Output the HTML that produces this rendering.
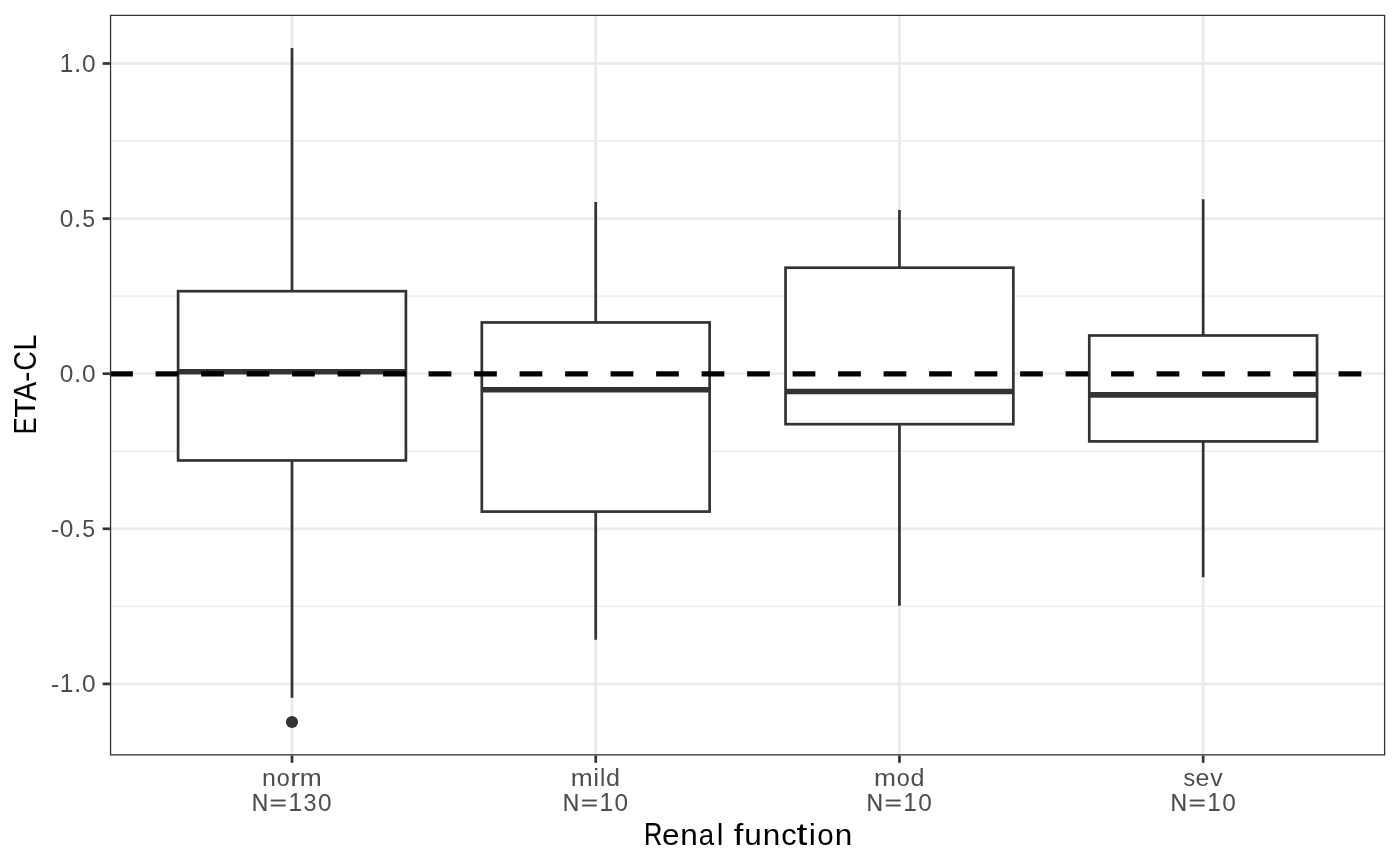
<!DOCTYPE html>
<html><head><meta charset="utf-8"><style>
html,body{margin:0;padding:0;background:#fff;width:1400px;height:866px;overflow:hidden}
svg{display:block;will-change:transform}
text{font-family:"Liberation Sans",sans-serif}
</style></head><body>
<svg width="1400" height="866" viewBox="0 0 1400 866">
<rect x="0" y="0" width="1400" height="866" fill="#FFFFFF"/>
<defs><clipPath id="pc"><rect x="109.9" y="14.7" width="1275.35" height="740.8"/></clipPath></defs>
<g clip-path="url(#pc)">
<line x1="109.9" x2="1385.25" y1="141.05" y2="141.05" stroke="#EBEBEB" stroke-width="1.4"/>
<line x1="109.9" x2="1385.25" y1="296.15" y2="296.15" stroke="#EBEBEB" stroke-width="1.4"/>
<line x1="109.9" x2="1385.25" y1="451.25" y2="451.25" stroke="#EBEBEB" stroke-width="1.4"/>
<line x1="109.9" x2="1385.25" y1="606.35" y2="606.35" stroke="#EBEBEB" stroke-width="1.4"/>
<line x1="109.9" x2="1385.25" y1="63.5" y2="63.5" stroke="#EBEBEB" stroke-width="2.8"/>
<line x1="109.9" x2="1385.25" y1="218.6" y2="218.6" stroke="#EBEBEB" stroke-width="2.8"/>
<line x1="109.9" x2="1385.25" y1="373.7" y2="373.7" stroke="#EBEBEB" stroke-width="2.8"/>
<line x1="109.9" x2="1385.25" y1="528.8" y2="528.8" stroke="#EBEBEB" stroke-width="2.8"/>
<line x1="109.9" x2="1385.25" y1="683.9" y2="683.9" stroke="#EBEBEB" stroke-width="2.8"/>
<line x1="292" x2="292" y1="14.7" y2="755.5" stroke="#EBEBEB" stroke-width="2.8"/>
<line x1="595.72" x2="595.72" y1="14.7" y2="755.5" stroke="#EBEBEB" stroke-width="2.8"/>
<line x1="899.44" x2="899.44" y1="14.7" y2="755.5" stroke="#EBEBEB" stroke-width="2.8"/>
<line x1="1203.16" x2="1203.16" y1="14.7" y2="755.5" stroke="#EBEBEB" stroke-width="2.8"/>
<line x1="292" x2="292" y1="48" y2="291.2" stroke="#333333" stroke-width="2.7"/>
<line x1="292" x2="292" y1="460.45" y2="697.7" stroke="#333333" stroke-width="2.7"/>
<rect x="178.1" y="291.2" width="227.8" height="169.25" fill="#FFFFFF" stroke="#333333" stroke-width="2.7"/>
<line x1="178.1" x2="405.9" y1="371.75" y2="371.75" stroke="#333333" stroke-width="5.6"/>
<line x1="595.72" x2="595.72" y1="201.9" y2="322.45" stroke="#333333" stroke-width="2.7"/>
<line x1="595.72" x2="595.72" y1="511.6" y2="639.8" stroke="#333333" stroke-width="2.7"/>
<rect x="481.82" y="322.45" width="227.8" height="189.15" fill="#FFFFFF" stroke="#333333" stroke-width="2.7"/>
<line x1="481.82" x2="709.62" y1="389.8" y2="389.8" stroke="#333333" stroke-width="5.6"/>
<line x1="899.44" x2="899.44" y1="209.9" y2="267.7" stroke="#333333" stroke-width="2.7"/>
<line x1="899.44" x2="899.44" y1="424.2" y2="605.7" stroke="#333333" stroke-width="2.7"/>
<rect x="785.54" y="267.7" width="227.8" height="156.5" fill="#FFFFFF" stroke="#333333" stroke-width="2.7"/>
<line x1="785.54" x2="1013.34" y1="391.55" y2="391.55" stroke="#333333" stroke-width="5.6"/>
<line x1="1203.16" x2="1203.16" y1="199.2" y2="335.5" stroke="#333333" stroke-width="2.7"/>
<line x1="1203.16" x2="1203.16" y1="441.4" y2="577.3" stroke="#333333" stroke-width="2.7"/>
<rect x="1089.26" y="335.5" width="227.8" height="105.9" fill="#FFFFFF" stroke="#333333" stroke-width="2.7"/>
<line x1="1089.26" x2="1317.06" y1="394.9" y2="394.9" stroke="#333333" stroke-width="5.6"/>
<circle cx="292" cy="722" r="6.1" fill="#333333"/>
<line x1="110.1" x2="1385.25" y1="373.9" y2="373.9" stroke="#000000" stroke-width="5.2" stroke-dasharray="22.75 22.75"/>
<rect x="109.9" y="14.7" width="1275.35" height="740.8" fill="none" stroke="#333333" stroke-width="2.6"/>
</g>
<line x1="102.65" x2="109.9" y1="63.5" y2="63.5" stroke="#333333" stroke-width="2.7"/>
<line x1="102.65" x2="109.9" y1="218.6" y2="218.6" stroke="#333333" stroke-width="2.7"/>
<line x1="102.65" x2="109.9" y1="373.7" y2="373.7" stroke="#333333" stroke-width="2.7"/>
<line x1="102.65" x2="109.9" y1="528.8" y2="528.8" stroke="#333333" stroke-width="2.7"/>
<line x1="102.65" x2="109.9" y1="683.9" y2="683.9" stroke="#333333" stroke-width="2.7"/>
<line x1="292" x2="292" y1="755.5" y2="762.8" stroke="#333333" stroke-width="2.7"/>
<line x1="595.72" x2="595.72" y1="755.5" y2="762.8" stroke="#333333" stroke-width="2.7"/>
<line x1="899.44" x2="899.44" y1="755.5" y2="762.8" stroke="#333333" stroke-width="2.7"/>
<line x1="1203.16" x2="1203.16" y1="755.5" y2="762.8" stroke="#333333" stroke-width="2.7"/>
<text id="y1" font-family="Liberation Sans, sans-serif" fill="#4D4D4D" style="white-space:pre"><tspan x="59.66" y="72.00" font-size="25.26" textLength="13.61" lengthAdjust="spacingAndGlyphs">1</tspan><tspan x="73.97" y="71.51" font-size="26.04" textLength="7.31" lengthAdjust="spacingAndGlyphs">.</tspan><tspan x="81.88" y="71.84" font-size="24.73" textLength="13.57" lengthAdjust="spacingAndGlyphs">0</tspan></text>
<text id="y2" font-family="Liberation Sans, sans-serif" fill="#4D4D4D" style="white-space:pre"><tspan x="59.81" y="226.94" font-size="24.73" textLength="13.57" lengthAdjust="spacingAndGlyphs">0</tspan><tspan x="73.97" y="226.61" font-size="26.04" textLength="7.31" lengthAdjust="spacingAndGlyphs">.</tspan><tspan x="82.18" y="226.74" font-size="24.65" textLength="12.81" lengthAdjust="spacingAndGlyphs">5</tspan></text>
<text id="y3" font-family="Liberation Sans, sans-serif" fill="#4D4D4D" style="white-space:pre"><tspan x="59.81" y="382.04" font-size="24.73" textLength="13.57" lengthAdjust="spacingAndGlyphs">0</tspan><tspan x="73.97" y="381.71" font-size="26.04" textLength="7.31" lengthAdjust="spacingAndGlyphs">.</tspan><tspan x="81.88" y="382.04" font-size="24.73" textLength="13.57" lengthAdjust="spacingAndGlyphs">0</tspan></text>
<text id="y4" font-family="Liberation Sans, sans-serif" fill="#4D4D4D" style="white-space:pre"><tspan x="50.91" y="537.20" font-size="24.44" textLength="8.31" lengthAdjust="spacingAndGlyphs">-</tspan><tspan x="59.81" y="537.14" font-size="24.73" textLength="13.57" lengthAdjust="spacingAndGlyphs">0</tspan><tspan x="73.97" y="536.81" font-size="26.04" textLength="7.31" lengthAdjust="spacingAndGlyphs">.</tspan><tspan x="82.18" y="536.94" font-size="24.65" textLength="12.81" lengthAdjust="spacingAndGlyphs">5</tspan></text>
<text id="y5" font-family="Liberation Sans, sans-serif" fill="#4D4D4D" style="white-space:pre"><tspan x="50.91" y="692.30" font-size="24.44" textLength="8.31" lengthAdjust="spacingAndGlyphs">-</tspan><tspan x="59.66" y="692.40" font-size="25.26" textLength="13.61" lengthAdjust="spacingAndGlyphs">1</tspan><tspan x="73.97" y="691.91" font-size="26.04" textLength="7.31" lengthAdjust="spacingAndGlyphs">.</tspan><tspan x="81.89" y="692.24" font-size="24.73" textLength="13.57" lengthAdjust="spacingAndGlyphs">0</tspan></text>
<text id="a1" font-family="Liberation Sans, sans-serif" fill="#4D4D4D" style="white-space:pre"><tspan x="261.95" y="785.51" font-size="23.37" textLength="13.88" lengthAdjust="spacingAndGlyphs">n</tspan><tspan x="276.75" y="785.60" font-size="23.53" textLength="13.00" lengthAdjust="spacingAndGlyphs">o</tspan><tspan x="290.25" y="785.70" font-size="24.09" textLength="9.88" lengthAdjust="spacingAndGlyphs">r</tspan><tspan x="299.78" y="785.71" font-size="23.37" textLength="21.97" lengthAdjust="spacingAndGlyphs">m</tspan></text>
<text id="b1" font-family="Liberation Sans, sans-serif" fill="#4D4D4D" style="white-space:pre"><tspan x="251.71" y="810.50" font-size="24.53" textLength="16.51" lengthAdjust="spacingAndGlyphs" stroke="#4D4D4D" stroke-width="0.20">N</tspan><tspan x="269.61" y="809.93" font-size="20.88" textLength="17.42" lengthAdjust="spacingAndGlyphs" stroke="#4D4D4D" stroke-width="0.20">=</tspan><tspan x="288.43" y="810.75" font-size="25.26" textLength="13.61" lengthAdjust="spacingAndGlyphs">1</tspan><tspan x="303.61" y="810.59" font-size="24.73" textLength="13.03" lengthAdjust="spacingAndGlyphs">3</tspan><tspan x="318.03" y="810.59" font-size="24.73" textLength="13.57" lengthAdjust="spacingAndGlyphs">0</tspan></text>
<text id="a2" font-family="Liberation Sans, sans-serif" fill="#4D4D4D" style="white-space:pre"><tspan x="570.80" y="785.71" font-size="23.37" textLength="21.97" lengthAdjust="spacingAndGlyphs">m</tspan><tspan x="593.58" y="785.64" font-size="23.54" textLength="5.26" lengthAdjust="spacingAndGlyphs" stroke="#4D4D4D" stroke-width="0.20">i</tspan><tspan x="600.01" y="785.64" font-size="23.54" textLength="5.26" lengthAdjust="spacingAndGlyphs">l</tspan><tspan x="606.06" y="785.99" font-size="24.39" textLength="13.99" lengthAdjust="spacingAndGlyphs">d</tspan></text>
<text id="b2" font-family="Liberation Sans, sans-serif" fill="#4D4D4D" style="white-space:pre"><tspan x="562.82" y="810.50" font-size="24.53" textLength="16.51" lengthAdjust="spacingAndGlyphs" stroke="#4D4D4D" stroke-width="0.20">N</tspan><tspan x="580.72" y="809.93" font-size="20.88" textLength="17.42" lengthAdjust="spacingAndGlyphs" stroke="#4D4D4D" stroke-width="0.20">=</tspan><tspan x="599.54" y="810.75" font-size="25.26" textLength="13.61" lengthAdjust="spacingAndGlyphs">1</tspan><tspan x="614.42" y="810.59" font-size="24.73" textLength="13.57" lengthAdjust="spacingAndGlyphs">0</tspan></text>
<text id="a3" font-family="Liberation Sans, sans-serif" fill="#4D4D4D" style="white-space:pre"><tspan x="873.91" y="785.71" font-size="23.37" textLength="21.97" lengthAdjust="spacingAndGlyphs">m</tspan><tspan x="896.67" y="785.60" font-size="23.53" textLength="13.00" lengthAdjust="spacingAndGlyphs">o</tspan><tspan x="910.46" y="785.99" font-size="24.39" textLength="13.99" lengthAdjust="spacingAndGlyphs">d</tspan></text>
<text id="b3" font-family="Liberation Sans, sans-serif" fill="#4D4D4D" style="white-space:pre"><tspan x="866.57" y="810.50" font-size="24.53" textLength="16.51" lengthAdjust="spacingAndGlyphs" stroke="#4D4D4D" stroke-width="0.20">N</tspan><tspan x="884.47" y="809.93" font-size="20.88" textLength="17.42" lengthAdjust="spacingAndGlyphs" stroke="#4D4D4D" stroke-width="0.20">=</tspan><tspan x="903.29" y="810.75" font-size="25.26" textLength="13.61" lengthAdjust="spacingAndGlyphs">1</tspan><tspan x="918.17" y="810.59" font-size="24.73" textLength="13.57" lengthAdjust="spacingAndGlyphs">0</tspan></text>
<text id="a4" font-family="Liberation Sans, sans-serif" fill="#4D4D4D" style="white-space:pre"><tspan x="1183.61" y="785.60" font-size="23.60" textLength="11.65" lengthAdjust="spacingAndGlyphs">s</tspan><tspan x="1195.51" y="785.60" font-size="23.53" textLength="13.91" lengthAdjust="spacingAndGlyphs">e</tspan><tspan x="1210.34" y="785.51" font-size="23.24" textLength="12.49" lengthAdjust="spacingAndGlyphs">v</tspan></text>
<text id="b4" font-family="Liberation Sans, sans-serif" fill="#4D4D4D" style="white-space:pre"><tspan x="1170.57" y="810.50" font-size="24.53" textLength="16.51" lengthAdjust="spacingAndGlyphs" stroke="#4D4D4D" stroke-width="0.20">N</tspan><tspan x="1188.47" y="809.93" font-size="20.88" textLength="17.42" lengthAdjust="spacingAndGlyphs" stroke="#4D4D4D" stroke-width="0.20">=</tspan><tspan x="1207.29" y="810.75" font-size="25.26" textLength="13.61" lengthAdjust="spacingAndGlyphs">1</tspan><tspan x="1222.17" y="810.59" font-size="24.73" textLength="13.57" lengthAdjust="spacingAndGlyphs">0</tspan></text>
<text id="t1" font-family="Liberation Sans, sans-serif" fill="#000000" style="white-space:pre"><tspan x="644.11" y="845.00" font-size="30.98" textLength="18.17" lengthAdjust="spacingAndGlyphs" stroke="#000000" stroke-width="0.20">R</tspan><tspan x="661.93" y="845.07" font-size="29.72" textLength="17.56" lengthAdjust="spacingAndGlyphs">e</tspan><tspan x="680.19" y="844.95" font-size="29.52" textLength="17.53" lengthAdjust="spacingAndGlyphs">n</tspan><tspan x="698.79" y="844.67" font-size="29.72" textLength="15.35" lengthAdjust="spacingAndGlyphs">a</tspan><tspan x="716.79" y="845.07" font-size="29.73" textLength="6.64" lengthAdjust="spacingAndGlyphs">l</tspan><tspan x="724.17" y="845.00"> </tspan><tspan x="733.74" y="844.67" font-size="29.77" textLength="9.60" lengthAdjust="spacingAndGlyphs">f</tspan><tspan x="744.19" y="844.87" font-size="30.26" textLength="17.53" lengthAdjust="spacingAndGlyphs">u</tspan><tspan x="762.83" y="844.95" font-size="29.52" textLength="17.53" lengthAdjust="spacingAndGlyphs">n</tspan><tspan x="781.17" y="844.67" font-size="29.72" textLength="15.40" lengthAdjust="spacingAndGlyphs">c</tspan><tspan x="796.64" y="844.75" font-size="31.37" textLength="10.86" lengthAdjust="spacingAndGlyphs">t</tspan><tspan x="809.05" y="845.07" font-size="29.73" textLength="6.64" lengthAdjust="spacingAndGlyphs" stroke="#000000" stroke-width="0.20">i</tspan><tspan x="817.16" y="845.07" font-size="29.72" textLength="16.42" lengthAdjust="spacingAndGlyphs">o</tspan><tspan x="834.86" y="844.95" font-size="29.52" textLength="17.53" lengthAdjust="spacingAndGlyphs">n</tspan></text>
<text id="t2" transform="translate(35.50,385.00) rotate(-90)" font-family="Liberation Sans, sans-serif" fill="#000000" style="white-space:pre"><tspan x="-49.32" y="0.00" font-size="30.98" textLength="16.90" lengthAdjust="spacingAndGlyphs">E</tspan><tspan x="-32.86" y="-0.32" font-size="30.05" textLength="19.48" lengthAdjust="spacingAndGlyphs">T</tspan><tspan x="-15.42" y="0.00" font-size="30.98" textLength="18.66" lengthAdjust="spacingAndGlyphs" stroke="#000000" stroke-width="0.20">A</tspan><tspan x="3.09" y="0.19" font-size="30.86" textLength="10.49" lengthAdjust="spacingAndGlyphs">-</tspan><tspan x="14.27" y="0.23" font-size="32.17" textLength="19.60" lengthAdjust="spacingAndGlyphs">C</tspan><tspan x="34.47" y="0.00" font-size="30.98" textLength="15.89" lengthAdjust="spacingAndGlyphs">L</tspan></text>
</svg>
</body></html>
